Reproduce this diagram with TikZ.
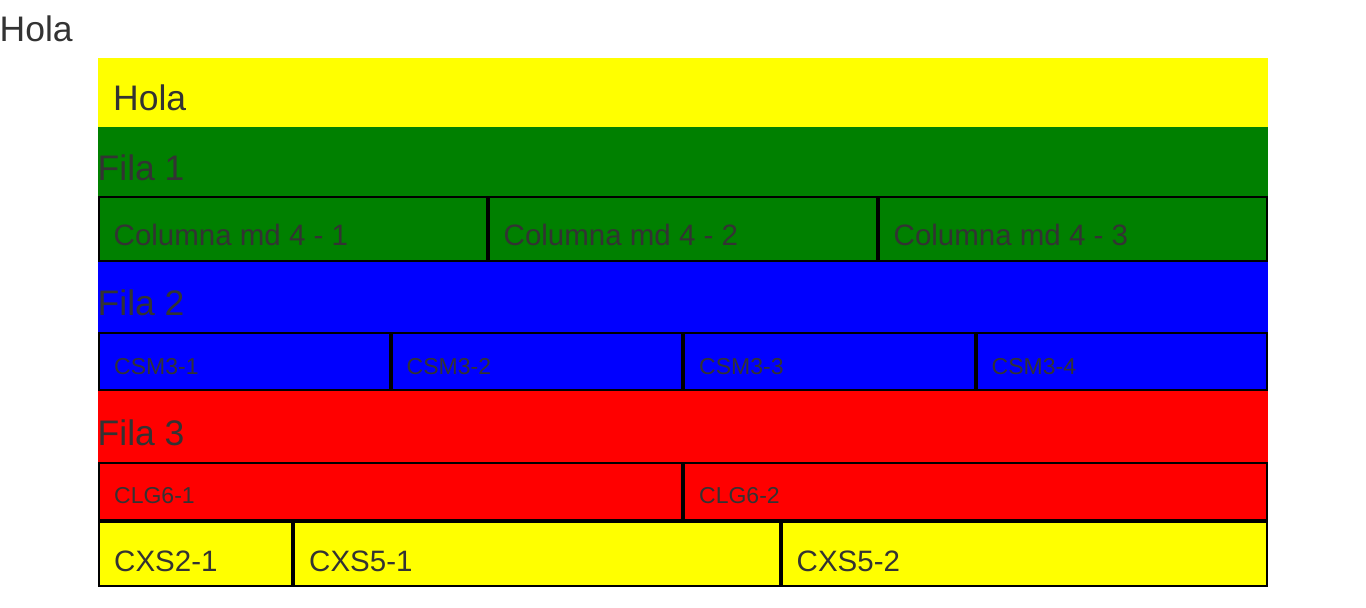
\documentclass[tikz,border=0pt]{standalone}
\usepackage{fontspec}
\setmainfont{Liberation Sans}
\usetikzlibrary{positioning}
\definecolor{txtgray}{HTML}{333333}
\definecolor{bsgreen}{HTML}{008000}
\definecolor{bsblue}{HTML}{0000FF}
\definecolor{bsred}{HTML}{FF0000}
\definecolor{bsyellow}{HTML}{FFFF00}

\begin{document}
\begin{tikzpicture}[
  x=1pt, y=-1pt,
  cell/.style={draw=black, line width=2pt},
  txtbig/.style={font=\fontsize{35.5}{40}\selectfont, text=txtgray, inner sep=0pt, anchor=base west},
  txtmid/.style={font=\fontsize{29.5}{34}\selectfont, text=txtgray, inner sep=0pt, anchor=base west},
  txtsmall/.style={font=\fontsize{23}{26}\selectfont, text=txtgray, inner sep=0pt, anchor=base west},
]
\useasboundingbox (0,0) rectangle (1366,608);

% ===== page title =====
\node[txtbig] (title) at (-0.5,41.5) {Hola};

% ===== bands =====
\fill[bsyellow] (98,58) rectangle (1268,127);
\fill[bsgreen] (98,127) rectangle (1268,262);
\fill[bsblue] (98,262) rectangle (1268,391);
\fill[bsred] (98,391) rectangle (1268,521);
\fill[bsyellow] (98,521) rectangle (1268,587);

\node[txtbig] (hola) at (113,110) {Hola};
\node[txtbig] (fila1) at (97.5,180) {Fila 1};
\node[txtbig] (fila2) at (97.5,315) {Fila 2};
\node[txtbig] (fila3) at (97.5,445) {Fila 3};

% ===== fila 1: md 4 =====
\foreach \a/\b/\t/\n in {98/488/Columna md 4 - 1/md1, 488/878/Columna md 4 - 2/md2, 878/1268/Columna md 4 - 3/md3} {
  \draw[cell] (\a+1,197) rectangle (\b-1,261);
  \node[txtmid] (\n) at (\a+15.5,245) {\t};
}

% ===== fila 2: sm 3 =====
\foreach \a/\b/\t/\n in {98/390.5/CSM3-1/sm1, 390.5/683/CSM3-2/sm2, 683/975.5/CSM3-3/sm3, 975.5/1268/CSM3-4/sm4} {
  \draw[cell] (\a+1,333) rectangle (\b-1,390);
  \node[txtsmall] (\n) at (\a+16,374) {\t};
}

% ===== fila 3: lg 6 =====
\foreach \a/\b/\t/\n in {98/683/CLG6-1/lg1, 683/1268/CLG6-2/lg2} {
  \draw[cell] (\a+1,463) rectangle (\b-1,520);
  \node[txtsmall] (\n) at (\a+16,503) {\t};
}

% ===== xs 2 / 5 / 5 =====
\foreach \a/\b/\t/\n in {98/293/CXS2-1/xs1, 293/780.5/CXS5-1/xs2, 780.5/1268/CXS5-2/xs3} {
  \draw[cell] (\a+1,522) rectangle (\b-1,586);
  \node[txtmid] (\n) at (\a+16,571) {\t};
}
\end{tikzpicture}
\end{document}
